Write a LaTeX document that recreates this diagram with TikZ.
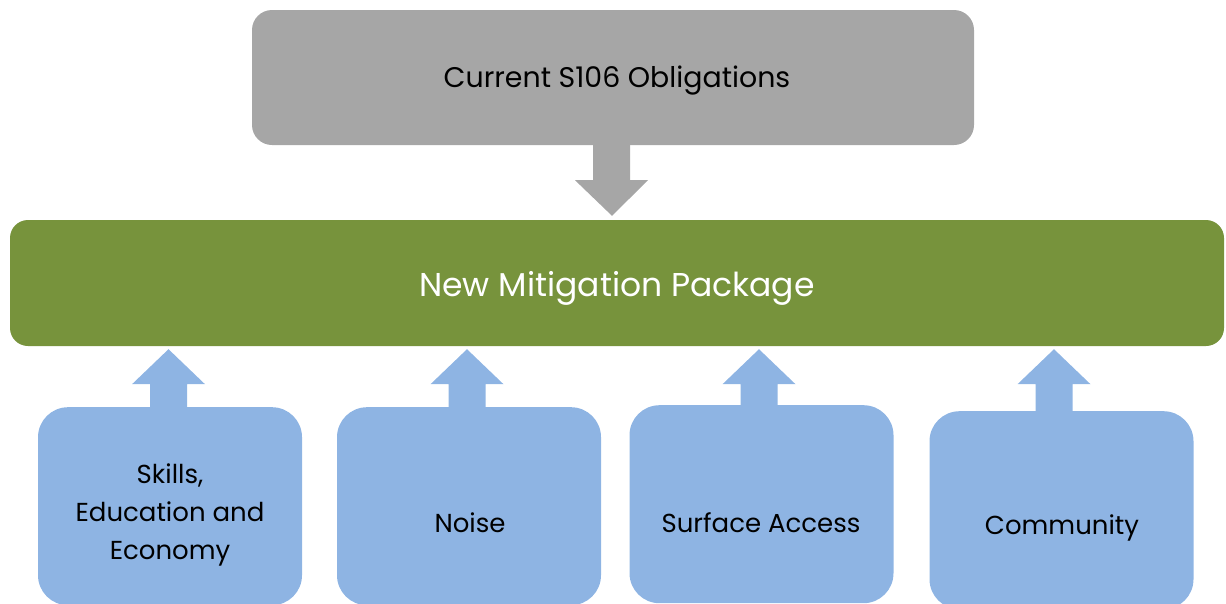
\documentclass[tikz,border=0pt]{standalone}
\usepackage{fontspec}
\setmainfont{Poppins}
\usetikzlibrary{calc}
\definecolor{boxgray}{HTML}{A6A6A6}
\definecolor{boxgreen}{HTML}{77933C}
\definecolor{boxblue}{HTML}{8EB4E3}
\tikzset{
  topbox/.style={fill=boxgray, draw=none, rounded corners=20pt, minimum width=722pt, minimum height=135pt, inner sep=0pt},
  midbox/.style={fill=boxgreen, draw=none, rounded corners=18pt, minimum width=1214pt, minimum height=126pt, inner sep=0pt},
  srcbox/.style={fill=boxblue, draw=none, rounded corners=30pt, minimum width=264pt, minimum height=198pt, inner sep=0pt},
  lbl/.style={align=center, text=black, inner sep=0pt, font=\fontsize{26}{38}\selectfont},
}
\begin{document}
\begin{tikzpicture}[x=1pt, y=-1pt]
\useasboundingbox (0,0) rectangle (1226,603);
\clip (0,0) rectangle (1226,603);
\node[topbox] (top) at (613,77.5) {};
\node[lbl, font=\fontsize{28.4}{34}\selectfont] (toptext) at (617,81) {Current S106 Obligations};
\node[midbox] (mid) at (617,283) {};
\node[lbl, text=white, font=\fontsize{33}{40}\selectfont] (midtext) at (617,288) {New Mitigation Package};
\node[srcbox, anchor=north] (b1) at (170,407) {};
\node[srcbox, anchor=north] (b2) at (469,407) {};
\node[srcbox, anchor=north] (b3) at (761.5,405) {};
\node[srcbox, anchor=north] (b4) at (1061.5,411) {};
\node[lbl] (t1) at (170,515) {Skills,\\Education and\\Economy};
\node[lbl] (t2) at (470,523) {Noise};
\node[lbl] (t3) at (761,523) {Surface Access};
\node[lbl] (t4) at (1062,528) {Community};
% gray down arrow
\fill[boxgray] ($(top.south)+(-20,-1)$) -- ($(top.south)+(17,-1)$) -- ($(top.south)+(17,35)$) -- ($(top.south)+(35,35)$)
  -- ($(mid.north)+(-5,-4)$) -- ($(top.south)+(-38,35)$) -- ($(top.south)+(-20,35)$) -- cycle;
% blue up arrows
\foreach \b/\dx in {b1/-1.5, b2/-2, b3/-2.5, b4/-7.5} {
  \coordinate (B) at ($(\b.north)+(\dx,0)$);
  \coordinate (T) at (B |- mid.south);
  \fill[boxblue] ($(B)+(-18.5,1)$) -- ($(T)+(-18.5,38)$) -- ($(T)+(-36.5,38)$) -- ($(T)+(0,3)$)
    -- ($(T)+(36.5,38)$) -- ($(T)+(18.5,38)$) -- ($(B)+(18.5,1)$) -- cycle;
}
\end{tikzpicture}
\end{document}
